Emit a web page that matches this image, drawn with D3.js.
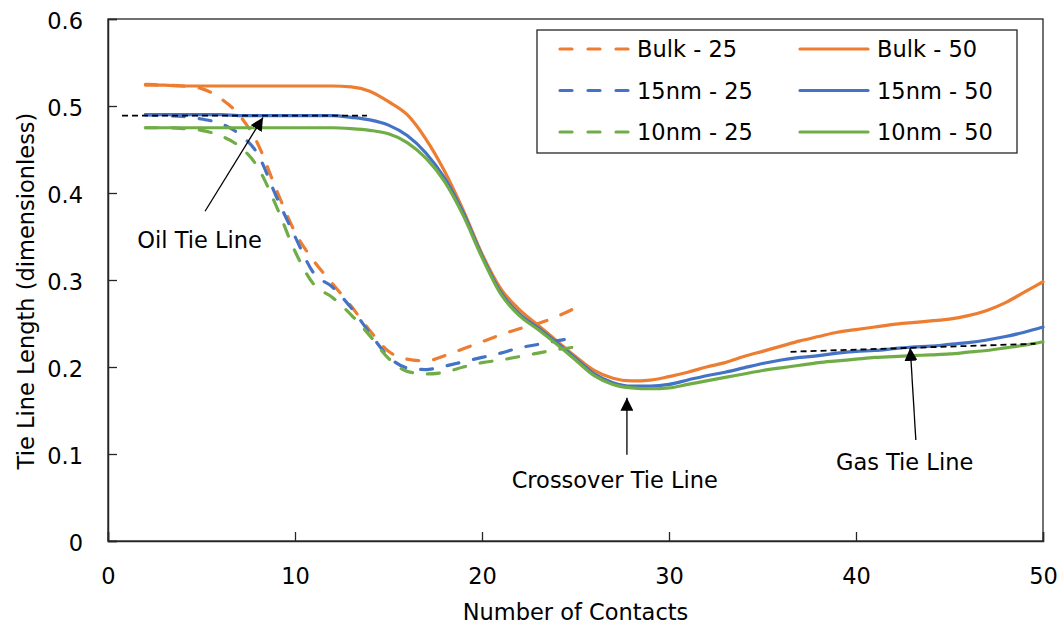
<!DOCTYPE html>
<html><head><meta charset="utf-8">
<script src="https://cdn.jsdelivr.net/npm/d3@7"></script>
<style>
body{margin:0;background:#fff;}
text{font-family:"DejaVu Sans",sans-serif;fill:#000;}
</style></head>
<body><svg id="c" width="1061" height="630"></svg>
<script>
const x25 = d3.range(2, 26);
const x50 = d3.range(2, 51);
const bulk25 = [0.525,0.524,0.523,0.520,0.509,0.490,0.457,0.404,0.355,0.322,0.296,0.270,0.242,0.218,0.209,0.207,0.213,0.221,0.229,0.237,0.244,0.250,0.258,0.268];
const nm15_25 = [0.490,0.489,0.488,0.485,0.480,0.468,0.445,0.396,0.350,0.308,0.292,0.268,0.239,0.212,0.199,0.197,0.201,0.206,0.211,0.216,0.222,0.226,0.230,0.234];
const nm10_25 = [0.475,0.475,0.474,0.472,0.466,0.454,0.430,0.385,0.333,0.295,0.280,0.260,0.236,0.210,0.195,0.192,0.194,0.200,0.205,0.208,0.212,0.216,0.220,0.223];
const bulk50 = [0.524,0.524,0.523,0.523,0.523,0.523,0.523,0.523,0.523,0.523,0.523,0.522,0.517,0.505,0.490,0.462,0.425,0.380,0.330,0.290,0.266,0.248,0.230,0.212,0.196,0.187,0.184,0.185,0.189,0.194,0.200,0.205,0.212,0.218,0.224,0.230,0.235,0.240,0.243,0.246,0.249,0.251,0.253,0.255,0.259,0.265,0.274,0.286,0.298];
const nm15_50 = [0.490,0.490,0.490,0.490,0.490,0.489,0.489,0.489,0.489,0.489,0.489,0.487,0.484,0.478,0.466,0.446,0.417,0.377,0.328,0.286,0.261,0.245,0.228,0.210,0.192,0.182,0.178,0.178,0.180,0.185,0.190,0.194,0.199,0.204,0.208,0.211,0.213,0.216,0.218,0.219,0.221,0.223,0.224,0.226,0.228,0.231,0.235,0.240,0.246];
const nm10_50 = [0.475,0.475,0.475,0.475,0.475,0.475,0.475,0.475,0.475,0.475,0.475,0.474,0.472,0.468,0.458,0.440,0.413,0.374,0.326,0.284,0.259,0.243,0.226,0.208,0.190,0.180,0.176,0.175,0.176,0.180,0.184,0.188,0.192,0.196,0.199,0.202,0.205,0.207,0.209,0.211,0.212,0.213,0.214,0.215,0.217,0.219,0.222,0.225,0.229];
const seriesNames = ["Bulk - 25","Bulk - 50","15nm - 25","15nm - 50","10nm - 25","10nm - 50"];
const xTicks = [0,10,20,30,40,50];
const yTicks = [0,0.1,0.2,0.3,0.4,0.5,0.6];
const oilLine = [[0.75,0.489],[13.85,0.489]];
const gasLine = [[36.5,0.2175],[49.6,0.2267]];
const arrows = [
  {from:[5.19,0.379], to:[8.29,0.4868]},
  {from:[27.75,0.099], to:[27.75,0.1646]},
  {from:[43.2,0.116], to:[42.9,0.222]}
];
const labels = [
  {text:"Oil Tie Line", at:[4.9,0.346]},
  {text:"Crossover Tie Line", at:[27.1,0.070]},
  {text:"Gas Tie Line", at:[42.6,0.091]}
];

const colors = {bulk:"#ED7D31", nm15:"#4472C4", nm10:"#70AD47"};
const series = [
  {name:seriesNames[0], xs:x25, ys:bulk25, color:colors.bulk, dash:true},
  {name:seriesNames[1], xs:x50, ys:bulk50, color:colors.bulk, dash:false},
  {name:seriesNames[2], xs:x25, ys:nm15_25, color:colors.nm15, dash:true},
  {name:seriesNames[3], xs:x50, ys:nm15_50, color:colors.nm15, dash:false},
  {name:seriesNames[4], xs:x25, ys:nm10_25, color:colors.nm10, dash:true},
  {name:seriesNames[5], xs:x50, ys:nm10_50, color:colors.nm10, dash:false}
];

const FONT = 22.5;
const svg = d3.select("#c");
const L=108, R=1043, T=19, B=541;
const x = d3.scaleLinear().domain([0,50]).range([L,R]);
const y = d3.scaleLinear().domain([0,0.6]).range([B,T]);
const axisColor = "#262626";

svg.append("defs").append("marker").attr("id","ah")
  .attr("viewBox","0 0 10 10").attr("refX",10).attr("refY",5)
  .attr("markerWidth",13).attr("markerHeight",13).attr("markerUnits","userSpaceOnUse")
  .attr("orient","auto")
  .append("path").attr("d","M0,0L10,5L0,10z").attr("fill","#000");

svg.append("rect").attr("x",L).attr("y",T).attr("width",R-L).attr("height",B-T)
  .attr("fill","none").attr("stroke",axisColor).attr("stroke-width",1.3);

const xa = svg.append("g").attr("transform",`translate(0,${B})`)
  .call(d3.axisBottom(x).tickValues(xTicks).tickSize(-9).tickPadding(27).tickFormat(d3.format("d")));
const ya = svg.append("g").attr("transform",`translate(${L},0)`)
  .call(d3.axisLeft(y).tickValues(yTicks).tickSize(-9).tickPadding(25).tickFormat(d=> d===0?"0":d3.format(".1f")(d)));
[xa,ya].forEach(g=>{
  g.select(".domain").attr("stroke",axisColor).attr("stroke-width",1.5);
  g.selectAll(".tick line").attr("stroke",axisColor).attr("stroke-width",1.3);
  g.selectAll(".tick text").attr("font-size",FONT).style("font-family",'"DejaVu Sans",sans-serif').attr("fill","#000");
});
xa.selectAll(".tick text").attr("dy","0.71em");
ya.selectAll(".tick text").attr("dy","0.42em");

svg.append("text").attr("x",(L+R)/2).attr("y",620).attr("text-anchor","middle")
  .attr("font-size",FONT).text("Number of Contacts");
svg.append("text").attr("transform",`translate(34,${(T+B)/2+11}) rotate(-90)`).attr("text-anchor","middle")
  .attr("font-size",FONT).text("Tie Line Length (dimensionless)");

const line = d3.line().x(d=>x(d[0])).y(d=>y(d[1])).curve(d3.curveMonotoneX);
series.forEach(s=>{
  svg.append("path").datum(s.xs.map((v,i)=>[v,s.ys[i]]))
    .attr("d",line).attr("fill","none").attr("stroke",s.color)
    .attr("stroke-width",3.2).attr("stroke-linecap","round").attr("stroke-linejoin","round")
    .attr("stroke-dasharray",s.dash?"12,15":null);
});

const lin = d3.line().x(d=>x(d[0])).y(d=>y(d[1]));
[oilLine,gasLine].forEach(t=>{
  svg.append("path").attr("d",lin(t)).attr("fill","none").attr("stroke","#000")
    .attr("stroke-width",1.8).attr("stroke-dasharray","6,4");
});
arrows.forEach(a=>{
  svg.append("line").attr("x1",x(a.from[0])).attr("y1",y(a.from[1]))
    .attr("x2",x(a.to[0])).attr("y2",y(a.to[1]))
    .attr("stroke","#000").attr("stroke-width",1.3).attr("marker-end","url(#ah)");
});
labels.forEach(l=>{
  svg.append("text").attr("x",x(l.at[0])).attr("y",y(l.at[1])).attr("text-anchor","middle")
    .attr("dominant-baseline","central").attr("font-size",FONT).text(l.text);
});

const lg = svg.append("g");
lg.append("rect").attr("x",537).attr("y",30).attr("width",480).attr("height",123)
  .attr("fill","#fff").attr("stroke",axisColor).attr("stroke-width",1.3);
series.forEach((s,i)=>{
  const col=i%2, row=Math.floor(i/2);
  const lx = col===0?560:800, ly = 49+row*41.5;
  lg.append("line").attr("x1",lx).attr("x2",lx+68).attr("y1",ly).attr("y2",ly)
    .attr("stroke",s.color).attr("stroke-width",3.2).attr("stroke-linecap","round")
    .attr("stroke-dasharray",s.dash?"12,16":null);
  lg.append("text").attr("x",lx+77).attr("y",ly).attr("dominant-baseline","central")
    .attr("font-size",FONT).text(s.name);
});
</script></body></html>
